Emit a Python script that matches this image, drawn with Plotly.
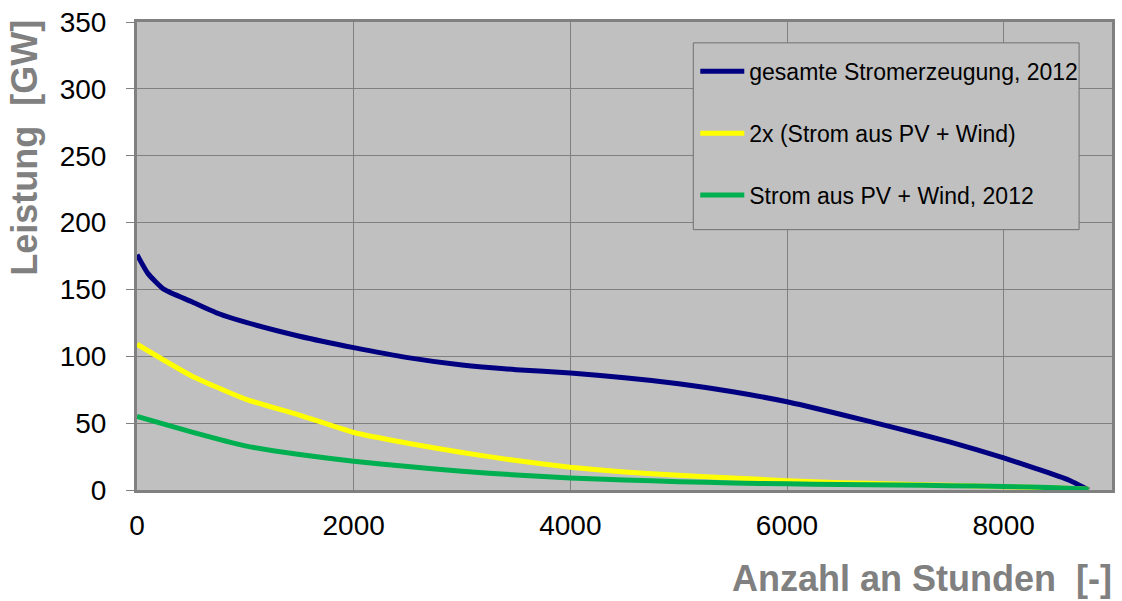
import plotly.graph_objects as go

# Hours (x) and power values (GW)
hours_total = [0, 100, 250, 500, 750, 1000, 1500, 2000, 2500, 3000, 3500, 4000,
               4500, 5000, 5500, 6000, 6500, 7000, 7500, 8000, 8300, 8600, 8784]
total_gen = [176, 162, 150, 141, 132, 125.5, 115, 106.5, 99, 93.5, 90, 87.5,
             84, 79.5, 73.5, 66, 56.5, 46.5, 36, 24, 16, 7.5, 0]

hours_re = [0, 500, 1000, 1500, 2000, 2500, 3000, 3500, 4000, 4500, 5000, 5500,
            6000, 6500, 7000, 7500, 8000, 8500, 8784]
double_re = [109, 85.5, 68, 56, 43, 35, 28, 22, 17, 13.5, 11, 9,
             7, 5.5, 4.5, 3.5, 2.5, 1.5, 0.5]
re_2012 = [55, 43.5, 33, 26.5, 21.5, 17.5, 14, 11.2, 9, 7.5, 6.2, 5.3,
           4.6, 4.1, 3.8, 3.2, 2.7, 1.6, 0.5]

names = ["gesamte Stromerzeugung, 2012", "2x (Strom aus PV + Wind)",
         "Strom aus PV + Wind, 2012"]
colors = ["#000080", "#FFFF00", "#00B050"]

x_ticks = [0, 2000, 4000, 6000, 8000]
y_ticks = [0, 50, 100, 150, 200, 250, 300, 350]

fig = go.Figure()
series = [(hours_total, total_gen), (hours_re, double_re), (hours_re, re_2012)]
for i, ((xs, ys), nm, c) in enumerate(zip(series, names, colors)):
    fig.add_trace(go.Scatter(x=xs, y=ys, mode="lines", name=nm,
                             legendgroup=f"g{i}",
                             line=dict(color=c, width=5, shape="spline", smoothing=0.5)))

font_family = "Liberation Sans, Arial, sans-serif"

# legend frame (decoration behind the native legend)
fig.add_shape(type="rect", xref="paper", yref="paper",
              x0=(695 - 137) / 978, x1=(1082 - 137) / 978,
              y0=(490 - 228) / 471, y1=(490 - 40) / 471,
              fillcolor="#C0C0C0", line=dict(color="#707070", width=1),
              layer="above")

fig.update_layout(
    width=1122, height=601,
    margin=dict(l=137, r=7, t=19, b=111),
    paper_bgcolor="white",
    plot_bgcolor="#C0C0C0",
    font=dict(family=font_family, color="black"),
    showlegend=True,
    legend=dict(x=(697 - 137) / 978, y=(490 - 47) / 471, xanchor="left", yanchor="top",
                bgcolor="rgba(0,0,0,0)", borderwidth=0,
                font=dict(size=23, family=font_family, color="black"),
                tracegroupgap=29, traceorder="grouped", itemwidth=44),
    xaxis=dict(range=[0, 9000], tickvals=x_ticks, ticktext=[str(v) for v in x_ticks],
               showgrid=True, gridcolor="#808080", gridwidth=1,
               showline=True, linecolor="#808080", linewidth=3, mirror=True,
               ticks="", zeroline=False,
               tickfont=dict(size=28, family=font_family, color="black"),
               ticklabelstandoff=8),
    yaxis=dict(range=[0, 350], tickvals=y_ticks, ticktext=[str(v) for v in y_ticks],
               showgrid=True, gridcolor="#808080", gridwidth=1,
               showline=True, linecolor="#808080", linewidth=3, mirror=True,
               ticks="outside", ticklen=8, tickcolor="#808080", tickwidth=1,
               zeroline=False,
               tickfont=dict(size=28, family=font_family, color="black"),
               ticklabelstandoff=14),
)

fig.add_annotation(text="<b>Anzahl an Stunden  [-]</b>", xref="paper", yref="paper",
                   x=1.002, y=-0.19, xanchor="right", yanchor="middle",
                   showarrow=False,
                   font=dict(size=36, family=font_family, color="#808080"))
fig.add_annotation(text="<b>Leistung  [GW]</b>", xref="paper", yref="paper",
                   x=-0.115, y=0.731, xanchor="center", yanchor="middle",
                   textangle=-90, showarrow=False,
                   font=dict(size=36, family=font_family, color="#808080"))

fig.write_html("out.html")
